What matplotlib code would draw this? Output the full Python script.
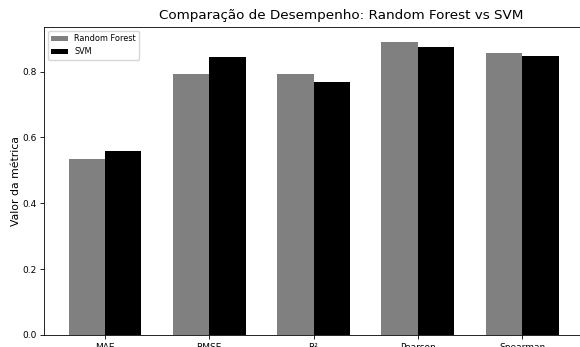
import numpy as np
import matplotlib.pyplot as plt

metricas = ['MAE', 'RMSE', 'R²', 'Pearson', 'Spearman']
rf_vals = [0.535, 0.794, 0.794, 0.891, 0.858]
svm_vals = [0.560, 0.843, 0.770, 0.876, 0.846]

fig = plt.figure(figsize=(5.8, 3.47), dpi=100)
ax = fig.add_axes([44 / 580, 12 / 347, (583 - 44) / 580, (335 - 27) / 347])

x = np.arange(len(metricas))
largura = 0.35
ax.bar(x - largura / 2, rf_vals, largura, label='Random Forest', color='gray')
ax.bar(x + largura / 2, svm_vals, largura, label='SVM', color='black')

ax.set_title('Comparação de Desempenho: Random Forest vs SVM', fontsize=9.7, x=0.551)
ax.set_ylabel('Valor da métrica', fontsize=7.8, labelpad=1)
ax.set_xticks(x)
ax.set_xticklabels(metricas)
ax.tick_params(axis='both', labelsize=6.5, length=3, width=0.6, pad=2.5)
for s in ax.spines.values():
    s.set_linewidth(0.6)
ax.legend(fontsize=5.9, loc='upper left')

fig.savefig('out.png', dpi=100)
